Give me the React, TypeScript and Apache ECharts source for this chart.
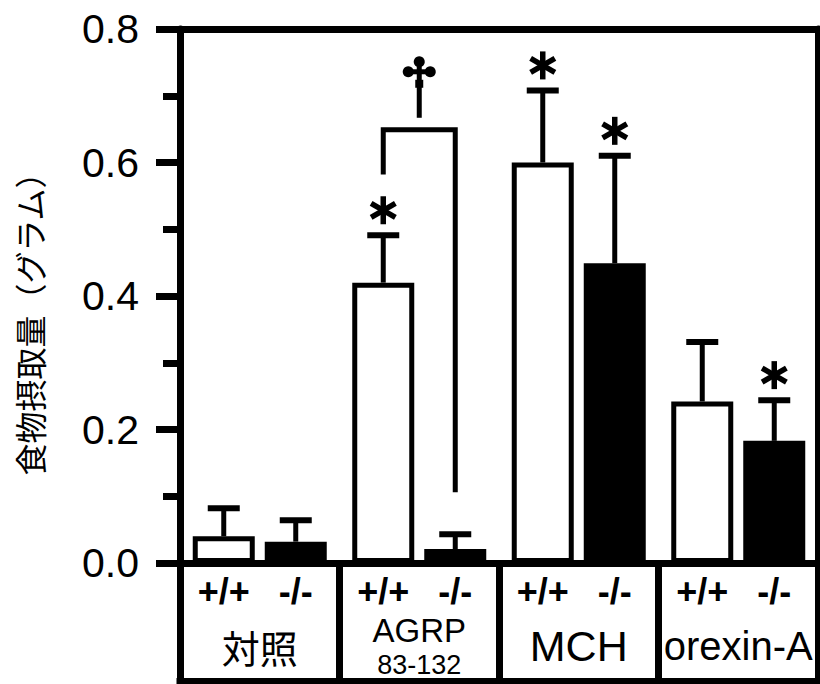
import React, { useEffect, useRef } from "react";
import * as echarts from "echarts";

// ---- data ----
const groups = ["対照", "AGRP\n83-132", "MCH", "orexin-A"];
const genotypes = ["+/+", "-/-"];
const wildMeans = [0.04, 0.42, 0.6, 0.242];
const wildErrTops = [0.082, 0.491, 0.708, 0.331];
const koMeans = [0.032, 0.021, 0.449, 0.183];
const koErrTops = [0.064, 0.043, 0.61, 0.244];
const wildStars = [false, true, true, false];
const koStars = [false, false, true, true];
// bracket between AGRP +/+ and AGRP -/-
const bracketGroup = 1;
const bracketLeftEnd = 0.582;
const bracketTop = 0.649;
const bracketRightEnd = 0.106;
const daggerStemBase = 0.667;
const yMin = 0;
const yMax = 0.8;
const yInterval = 0.2;
const yAxisTitle = "食物摂取量（グラム）";

const LATIN = "'Liberation Sans', Arial, Helvetica, sans-serif";
const CJK = "'Noto Sans CJK JP', sans-serif";
const BAR_W = 62;
const BAR_GAP = 10;
const OFF = (BAR_W + BAR_GAP) / 2;

function groupLabel(name: string): string {
  if (name === "対照") return `{cjk|${name}}`;
  if (name.includes("\n")) {
    const [a, b] = name.split("\n");
    return `{a|${a}}\n{b|${b}}`;
  }
  if (name.length > 5) return `{latS|${name}}`;
  return `{lat|${name}}`;
}

export default function App() {
  const ref = useRef<HTMLDivElement>(null);
  useEffect(() => {
    if (!ref.current) return;
    const chart = echarts.init(ref.current, null, { renderer: "svg" });

    const errData: any[] = [];
    [wildMeans, koMeans].forEach((means, s) => {
      const tops = s === 0 ? wildErrTops : koErrTops;
      const stars = s === 0 ? wildStars : koStars;
      means.forEach((m, i) => errData.push([i, m, tops[i], s, stars[i] ? 1 : 0]));
    });

    const black = "#000";
    const lineAxis = (extra: any) => ({
      type: "category",
      data: groups,
      axisLine: { show: true, lineStyle: { color: black, width: 7, cap: "square" } },
      axisTick: { show: false },
      axisLabel: { show: false },
      splitLine: { show: false },
      ...extra,
    });

    const option: any = {
      animation: false,
      grid: { left: 180, right: 2, top: 29, bottom: 121 },
      xAxis: [
        {
          type: "category",
          data: groups,
          position: "bottom",
          axisLine: { show: true, lineStyle: { color: black, width: 7, cap: "square" } },
          axisTick: { show: true, interval: 0, length: 118, lineStyle: { color: black, width: 7 } },
          axisLabel: {
            interval: 0,
            margin: 83,
            verticalAlign: "middle",
            color: black,
            formatter: groupLabel,
            rich: {
              cjk: { fontFamily: CJK, fontSize: 38, color: black },
              a: { fontFamily: LATIN, fontSize: 33, lineHeight: 38, color: black },
              b: { fontFamily: LATIN, fontSize: 27, lineHeight: 31, color: black },
              lat: { fontFamily: LATIN, fontSize: 43, color: black },
              latS: { fontFamily: LATIN, fontSize: 40, color: black },
            },
          },
          splitLine: { show: false },
        },
        lineAxis({ position: "bottom", offset: 49 }),
        lineAxis({ position: "bottom", offset: 118 }),
        lineAxis({ position: "top" }),
      ],
      yAxis: [
        {
          type: "value",
          min: yMin,
          max: yMax,
          interval: yInterval,
          axisLine: { show: true, lineStyle: { color: black, width: 7 } },
          axisTick: { show: true, length: 24, lineStyle: { color: black, width: 7 } },
          minorTick: { show: true, splitNumber: 2, length: 17, lineStyle: { color: black, width: 7 } },
          splitLine: { show: false },
          axisLabel: {
            margin: 41,
            fontSize: 41,
            fontFamily: LATIN,
            color: black,
            formatter: (v: number) => v.toFixed(1),
          },
        },
        {
          type: "value",
          min: yMin,
          max: yMax,
          interval: yInterval,
          position: "right",
          axisLine: { show: true, lineStyle: { color: black, width: 7 } },
          axisTick: { show: false },
          axisLabel: { show: false },
          splitLine: { show: false },
        },
      ],
      graphic: [
        {
          type: "text",
          x: 29,
          y: 316,
          rotation: Math.PI / 2,
          style: {
            text: yAxisTitle,
            font: `32px ${CJK}`,
            fill: black,
            textAlign: "center",
            textVerticalAlign: "middle",
          },
        },
      ],
      series: [
        {
          name: genotypes[0],
          type: "bar",
          data: wildMeans,
          barWidth: BAR_W,
          barGap: `${(BAR_GAP / BAR_W) * 100}%`,
          itemStyle: { color: "#fff", borderColor: black, borderWidth: 5 },
          label: {
            show: true,
            position: "bottom",
            distance: 10,
            formatter: genotypes[0],
            color: black,
            fontSize: 36,
            fontWeight: "bold",
            fontFamily: LATIN,
          },
        },
        {
          name: genotypes[1],
          type: "bar",
          data: koMeans,
          barWidth: BAR_W,
          itemStyle: { color: black, borderColor: black, borderWidth: 0 },
          label: {
            show: true,
            position: "bottom",
            distance: 10,
            formatter: genotypes[1],
            color: black,
            fontSize: 36,
            fontWeight: "bold",
            fontFamily: LATIN,
          },
        },
        {
          type: "custom",
          data: errData,
          encode: { x: 0, y: [1, 2] },
          z: 5,
          renderItem: (params: any, api: any) => {
            const i = api.value(0);
            const mean = api.value(1);
            const top = api.value(2);
            const s = api.value(3);
            const star = api.value(4);
            const cx = api.coord([i, 0])[0] + (s === 0 ? -OFF : OFF);
            const yM = api.coord([i, mean])[1];
            const yT = api.coord([i, top])[1];
            const st = { stroke: black, lineWidth: 5 };
            const children: any[] = [
              { type: "line", shape: { x1: cx, y1: yM, x2: cx, y2: yT }, style: st },
              { type: "line", shape: { x1: cx - 16, y1: yT, x2: cx + 16, y2: yT }, style: { stroke: black, lineWidth: 6 } },
            ];
            if (star) {
              const cy = yT - 25;
              const r = 14;
              [90, 30, 150].forEach((deg) => {
                const a = (deg * Math.PI) / 180;
                children.push({
                  type: "line",
                  shape: {
                    x1: cx - r * Math.cos(a),
                    y1: cy - r * Math.sin(a),
                    x2: cx + r * Math.cos(a),
                    y2: cy + r * Math.sin(a),
                  },
                  style: { stroke: black, lineWidth: 5.5 },
                });
              });
            }
            return { type: "group", children };
          },
        },
        {
          type: "custom",
          data: [[bracketGroup, bracketLeftEnd, bracketTop, bracketRightEnd, daggerStemBase]],
          encode: { x: 0, y: [1, 2, 3, 4] },
          z: 5,
          renderItem: (params: any, api: any) => {
            const g = api.value(0);
            const c = api.coord([g, 0])[0];
            const xL = c - OFF;
            const xR = c + OFF;
            const yL = api.coord([g, api.value(1)])[1];
            const yT = api.coord([g, api.value(2)])[1];
            const yR = api.coord([g, api.value(3)])[1];
            const yS = api.coord([g, api.value(4)])[1];
            const xm = (xL + xR) / 2;
            const st = { stroke: black, lineWidth: 5, fill: null };
            return {
              type: "group",
              children: [
                {
                  type: "polyline",
                  shape: { points: [[xL, yL], [xL, yT], [xR, yT], [xR, yR]] },
                  style: st,
                },
                { type: "line", shape: { x1: xm, y1: yS, x2: xm, y2: yS - 56 }, style: st },
                { type: "line", shape: { x1: xm - 11, y1: yS - 46, x2: xm + 11, y2: yS - 46 }, style: st },
                { type: "circle", shape: { cx: xm, cy: yS - 56, r: 5.5 }, style: { fill: black } },
                { type: "circle", shape: { cx: xm - 11, cy: yS - 46, r: 5.5 }, style: { fill: black } },
                { type: "circle", shape: { cx: xm + 11, cy: yS - 46, r: 5.5 }, style: { fill: black } },
                { type: "rect", shape: { x: xm - 4, y: yS - 38, width: 8, height: 8 }, style: { fill: black } },
              ],
            };
          },
        },
      ],
    };
    chart.setOption(option);
    return () => chart.dispose();
  }, []);
  return (
    <div
      ref={ref}
      style={{ position: "absolute", left: 0, top: 0, width: 820, height: 684, background: "#fff" }}
    />
  );
}
